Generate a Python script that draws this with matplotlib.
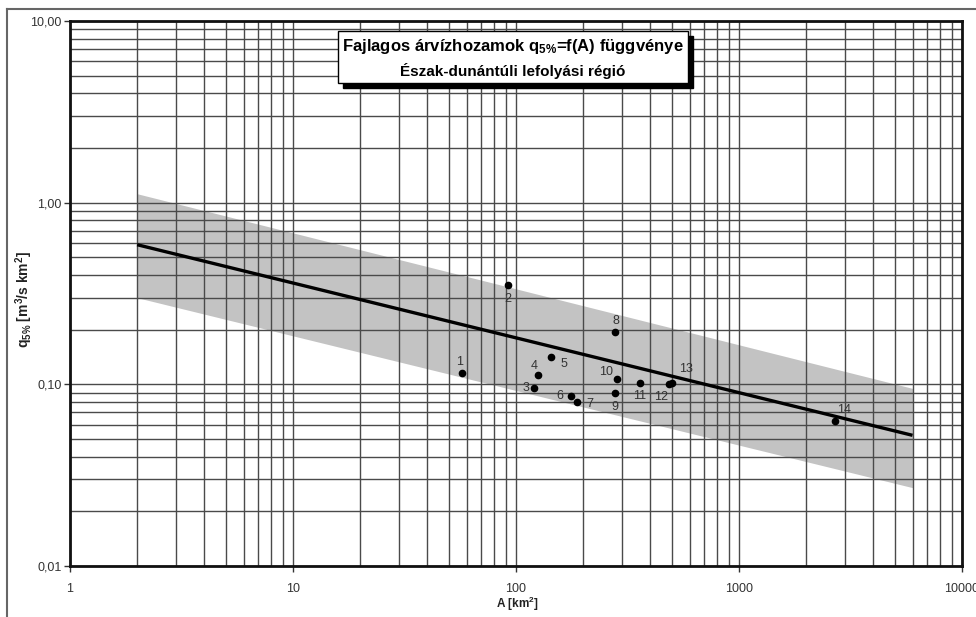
import matplotlib
matplotlib.use("Agg")
import matplotlib.pyplot as plt
from matplotlib.patches import Rectangle
from matplotlib.lines import Line2D
from matplotlib.ticker import FixedLocator, FixedFormatter, NullFormatter

plt.rcParams['font.family'] = ['Liberation Sans', 'DejaVu Sans']
plt.rcParams['mathtext.default'] = 'regular'

# ---- data ----
point_labels = ['1', '2', '3', '4', '5', '6', '7', '8', '9', '10', '11', '12', '13', '14']
point_A = [57, 92, 120, 126, 143, 176, 188, 279, 279, 284, 360, 485, 500, 2700]
point_q = [0.115, 0.354, 0.096, 0.112, 0.141, 0.086, 0.080, 0.193, 0.090, 0.107, 0.102, 0.100, 0.102, 0.063]
label_offsets = [(-2, 11), (0, -14), (-8, 0), (-4, 9), (13, -7), (-11, 0), (13, -2),
                 (1, 11), (0, -14), (-11, 7), (0, -13), (-8, -13), (14, 14), (9, 11)]

trend_A = [2, 6000]
trend_q = [0.587, 0.0524]
band_upper = [1.12, 0.095]
band_lower = [0.30, 0.027]

xtick_vals = [1, 10, 100, 1000, 10000]
xtick_labels = ['1', '10', '100', '1000', '10000']
ytick_vals = [0.01, 0.1, 1, 10]
ytick_labels = ['0,01', '0,10', '1,00', '10,00']

W, H = 976, 617
fig = plt.figure(figsize=(W / 100, H / 100), dpi=100)
ax = fig.add_axes([70 / W, 1 - 566 / H, (962 - 70) / W, (566 - 21) / H])
ax.set_xscale('log')
ax.set_yscale('log')
ax.set_xlim(1, 10000)
ax.set_ylim(0.01, 10)

# band
ax.fill_between(trend_A, band_lower, band_upper, color='#c3c3c3', lw=0, zorder=1)

# grid
ax.xaxis.set_major_locator(FixedLocator(xtick_vals))
ax.xaxis.set_major_formatter(FixedFormatter(xtick_labels))
ax.yaxis.set_major_locator(FixedLocator(ytick_vals))
ax.yaxis.set_major_formatter(FixedFormatter(ytick_labels))
minors_x = [m * 10 ** e for e in range(0, 4) for m in range(2, 10)]
minors_y = [m * 10 ** e for e in range(-2, 1) for m in range(2, 10)]
ax.xaxis.set_minor_locator(FixedLocator(minors_x))
ax.yaxis.set_minor_locator(FixedLocator(minors_y))
ax.xaxis.set_minor_formatter(NullFormatter())
ax.yaxis.set_minor_formatter(NullFormatter())
ax.grid(True, which='both', color='#4a4a4a', lw=1.0, zorder=2)
ax.set_axisbelow(False)
ax.tick_params(which='minor', length=0)
ax.tick_params(which='major', length=4, width=1, color='#333333', direction='out',
               labelsize=9, labelcolor='#333333')
ax.tick_params(axis='x', pad=8)
ax.tick_params(axis='y', pad=2)
for s in ax.spines.values():
    s.set_linewidth(2)
    s.set_color('#111111')
    s.set_zorder(5)

# trend line
ax.plot(trend_A, trend_q, color='black', lw=2.4, zorder=4, solid_capstyle='butt')

# points
ax.plot(point_A, point_q, 'o', color='black', ms=4.5, zorder=6, ls='none')
for lab, a, q, off in zip(point_labels, point_A, point_q, label_offsets):
    ax.annotate(lab, (a, q), xytext=off, textcoords='offset pixels',
                ha='center', va='center', fontsize=9, color='#333333', zorder=7)

# axis labels placed explicitly
fig.text(517 / W, 1 - 604 / H, 'A [km$^2$]', ha='center', va='center',
         fontsize=8.5, fontweight='bold', color='#222222')
fig.text(24 / W, 1 - 300 / H, 'q$_{5\\%}$ [m$^3$/s km$^2$]', ha='center', va='center',
         rotation=90, fontsize=10, fontweight='bold', color='#222222')

# title box with shadow
bx0, bx1, by0, by1 = 338, 688, 31, 83
sh = 5
fig.add_artist(Rectangle(((bx0 + sh) / W, 1 - (by1 + sh) / H), (bx1 - bx0) / W, (by1 - by0) / H,
                         transform=fig.transFigure, facecolor='black', edgecolor='black', zorder=10))
fig.add_artist(Rectangle((bx0 / W, 1 - by1 / H), (bx1 - bx0) / W, (by1 - by0) / H,
                         transform=fig.transFigure, facecolor='white', edgecolor='black', lw=1, zorder=11))
fig.text((bx0 + bx1) / 2 / W, 1 - 46 / H, 'Fajlagos árvízhozamok q$_{5\\%}$=f(A) függvénye',
         ha='center', va='center', fontsize=12, fontweight='bold', color='black', zorder=12)
fig.text((bx0 + bx1) / 2 / W, 1 - 71 / H, 'Észak-dunántúli lefolyási régió',
         ha='center', va='center', fontsize=11, fontweight='bold', color='black', zorder=12)

# outer frame
fig.add_artist(Line2D([7 / W, 7 / W], [0, 1 - 9 / H], transform=fig.transFigure, color='#666666', lw=1.5))
fig.add_artist(Line2D([7 / W, 1], [1 - 9 / H, 1 - 9 / H], transform=fig.transFigure, color='#666666', lw=1.5))

fig.savefig('out.png', dpi=100)
